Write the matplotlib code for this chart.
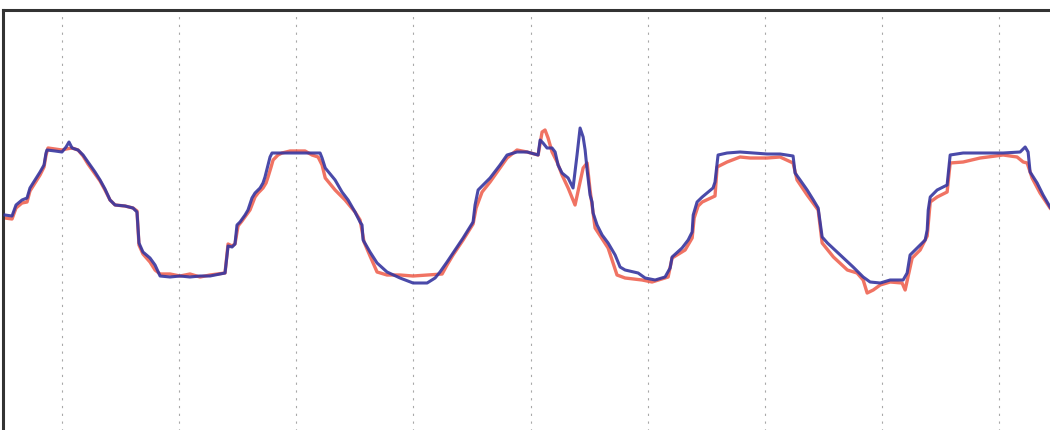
import numpy as np
import matplotlib
matplotlib.use("Agg")
import matplotlib.pyplot as plt

# time axis (grid every 100 units)
blue_t = [1.7, 7.7, 11.1, 16.2, 20.5, 23.0, 27.3, 31.6, 35.0, 36.7, 37.5, 44.4, 50.3, 53.8, 56.3, 58.9,
          64.0, 68.3, 72.5, 78.5, 82.8, 87.0, 91.3, 95.6, 104.1, 110.9, 114.3, 115.2,
          116.0, 119.4, 125.4, 129.7, 134.0, 142.5, 151.0, 159.5, 168.1, 176.6, 189.4,
          192.0, 195.4, 197.9,
          199.6, 202.2, 206.5, 209.0, 212.4, 215.0, 219.3, 221.8, 223.5, 226.1, 227.8, 229.5,
          244.9, 257.7, 270.5, 272.2, 274.9, 283.3, 289.2, 294.4, 300.3, 304.6, 306.3,
          307.2, 313.1, 319.1, 327.6, 338.7, 349.8, 361.8, 368.6, 372.8, 378.8, 383.9, 392.5, 401.0,
          402.7, 405.3, 415.5, 424.0, 430.0, 438.5, 447.1, 456.5, 458.2, 460.7, 464.1, 468.4,
          471.0, 473.5, 476.9, 482.1, 486.3,
          489.7, 492.3, 494.9, 496.6, 498.3, 500.8, 502.5, 503.4, 506.8, 511.1, 516.2, 522.2,
          526.4, 530.7, 541.8, 547.8, 556.3, 564.8, 569.1,
          570.8, 579.3, 584.5, 587.9,
          588.8, 592.1, 596.5, 605.7, 607.4,
          610.0, 617.7, 628.8, 639.9, 651.8, 662.9, 674.0,
          675.7, 680.0, 686.0, 691.3, 695.4,
          698.8, 703.3, 714.3, 725.2, 733.8, 739.7, 748.3, 756.8, 767.9, 771.3,
          773.8, 779.8, 786.7, 788.4, 789.3, 791.0, 796.9, 805.4,
          808.0, 819.1, 836.1, 853.2, 867.7, 872.0, 874.5,
          876.2, 882.2, 887.3, 893.2]
blue_v = [-0.5, -0.6, 0.5, 1.0, 1.2, 2.2, 3.0, 3.8, 4.5, 5.7, 6.0, 5.9, 5.8, 6.3, 6.8, 6.2,
          6.0, 5.5, 4.8, 3.8, 3.0, 2.1, 1.0, 0.5, 0.4, 0.2, -0.2, -1.9,
          -3.3, -4.2, -4.8, -5.5, -6.6, -6.7, -6.6, -6.7, -6.6, -6.6, -6.3,
          -3.6, -3.7, -3.4,
          -1.5, -1.2, -0.5, 0.0, 1.2, 1.7, 2.2, 2.7, 3.3, 4.5, 5.3, 5.7,
          5.7, 5.7, 5.7, 5.2, 4.2, 3.0, 1.8, 1.0, -0.2, -1.2, -1.5,
          -3.0, -4.2, -5.3, -6.2, -6.8, -7.3, -7.3, -6.8, -6.2, -5.2, -4.3, -2.8, -1.2,
          0.5, 2.0, 3.2, 4.5, 5.5, 5.8, 5.8, 5.5, 7.0, 6.7, 6.2, 6.2,
          5.8, 4.5, 3.7, 3.2, 2.2,
          5.5, 8.2, 7.3, 6.0, 4.0, 1.5, 0.8, -0.3, -1.5, -2.5, -3.3, -4.5,
          -5.7, -6.0, -6.3, -6.8, -7.0, -6.7, -5.8,
          -4.7, -3.8, -3.0, -2.2,
          -0.5, 0.8, 1.3, 2.2, 2.8,
          5.5, 5.7, 5.8, 5.7, 5.6, 5.6, 5.4,
          3.7, 3.0, 2.0, 1.0, 0.2,
          -2.7, -3.3, -4.5, -5.7, -6.7, -7.2, -7.3, -7.0, -7.0, -6.3,
          -4.5, -3.8, -3.0, -2.0, 0.0, 1.3, 2.0, 2.5,
          5.5, 5.7, 5.7, 5.7, 5.8, 6.3, 5.8,
          3.8, 2.7, 1.5, 0.3]

red_t = [1.7, 7.7, 11.1, 16.2, 20.5, 23.0, 27.3, 31.6, 35.0, 36.7, 38.4, 44.4, 50.3, 53.8, 58.9,
         64.0, 68.3, 72.5, 78.5, 82.8, 87.0, 91.3, 95.6, 104.1, 110.9, 114.3,
         116.0, 119.4, 125.4, 129.7, 134.0, 142.5, 151.0, 159.5, 168.1, 176.6, 189.4,
         192.0, 195.4, 197.9,
         200.5, 203.9, 208.2, 210.7, 215.0, 217.6, 221.8, 224.4, 226.1, 228.7, 230.4, 234.6,
         238.0, 244.9, 257.7, 263.6, 268.8, 272.2, 274.9, 283.3, 291.8, 300.3, 304.6,
         308.0, 313.1, 319.1, 327.6, 338.7, 349.8, 361.8, 374.6, 378.8, 383.9, 392.5, 401.0,
         403.6, 408.7, 415.5, 424.0, 430.0, 438.5, 447.1, 456.5, 459.9, 462.4, 465.0, 468.4,
         472.7, 476.9, 482.1, 488.0,
         494.9, 498.3, 500.8, 505.1, 516.2, 523.8, 530.7, 545.2, 553.7, 567.4, 570.8, 581.9, 587.9,
         589.6, 593.0, 596.5, 605.7, 607.4,
         609.2, 617.7, 628.8, 637.3, 651.8, 662.9, 674.0,
         677.4, 686.0, 695.4,
         698.8, 708.4, 720.3, 728.6, 733.8, 737.2, 742.4, 748.3, 756.8, 767.0, 769.6,
         775.6, 782.4, 788.4, 791.0, 796.9, 805.4,
         808.0, 819.1, 833.6, 853.2, 865.1, 870.3, 873.7,
         877.9, 884.7, 893.2]
red_v = [-0.8, -0.9, 0.2, 0.7, 0.8, 1.9, 2.7, 3.5, 4.3, 5.5, 6.2, 6.1, 6.0, 6.1, 6.2,
         6.0, 5.4, 4.6, 3.6, 2.9, 2.0, 1.0, 0.5, 0.4, 0.2, -0.1,
         -3.5, -4.4, -5.2, -6.0, -6.4, -6.4, -6.6, -6.4, -6.7, -6.5, -6.3,
         -3.4, -3.6, -3.4,
         -1.6, -1.1, -0.4, 0.0, 1.3, 1.7, 2.2, 2.7, 3.3, 4.3, 5.0, 5.5,
         5.7, 5.9, 5.9, 5.5, 5.3, 4.5, 3.2, 2.0, 1.0, -0.2, -1.0,
         -3.2, -4.6, -6.2, -6.5, -6.5, -6.6, -6.5, -6.4, -5.5, -4.5, -3.0, -1.4,
         0.2, 1.8, 2.8, 4.2, 5.2, 6.0, 5.8, 5.5, 7.8, 8.0, 7.2, 5.8,
         4.8, 3.5, 2.2, 0.5,
         4.2, 4.7, 2.0, -1.8, -3.8, -6.5, -6.8, -7.0, -7.2, -6.7, -4.8, -4.0, -2.8,
         -0.8, 0.4, 0.8, 1.3, 1.4,
         4.3, 4.8, 5.3, 5.2, 5.2, 5.3, 4.7,
         3.0, 1.5, 0.0,
         -3.3, -4.7, -6.0, -6.3, -7.0, -8.3, -8.0, -7.5, -7.2, -7.3, -8.0,
         -4.8, -4.0, -2.6, 0.8, 1.3, 1.8,
         4.7, 4.8, 5.2, 5.5, 5.3, 4.8, 4.7,
         3.2, 1.7, 0.2]

grid_t = [50, 150, 250, 350, 450, 550, 650, 750, 850]

fig = plt.figure(figsize=(10.5, 4.3), dpi=100)
# frame is cut off at the right and bottom edge of the picture
ax = fig.add_axes([3 / 1050, -30 / 430, 1055 / 1050, 450 / 430])
ax.set_xlim(0, 900)
ax.set_ylim(-25, 20)

for g in grid_t:
    ax.axvline(g, color='#a8a8a8', lw=0.8, ls=(0, (2, 5)), zorder=1)

ax.plot(red_t, red_v, color='#ee5a48', lw=2.4, alpha=0.85, zorder=2)
ax.plot(blue_t, blue_v, color='#3636a0', lw=2.2, alpha=0.9, zorder=3)

ax.set_xticks([])
ax.set_yticks([])
for side in ['left', 'top']:
    ax.spines[side].set_color('#333333')
    ax.spines[side].set_linewidth(2.2)

fig.savefig('out.png', dpi=100)
